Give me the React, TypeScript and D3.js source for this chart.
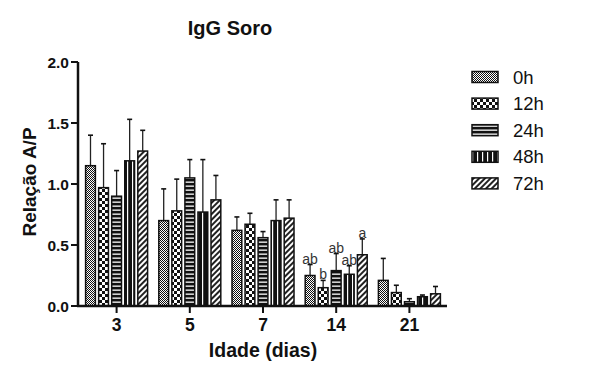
import * as d3 from "d3";

const ages = ["3", "5", "7", "14", "21"];
const series = ["0h", "12h", "24h", "48h", "72h"];
// mean per series, one value per age
const means = [
  [1.15, 0.7, 0.62, 0.25, 0.21],
  [0.97, 0.78, 0.67, 0.15, 0.11],
  [0.9, 1.05, 0.56, 0.29, 0.035],
  [1.19, 0.77, 0.7, 0.26, 0.076],
  [1.27, 0.87, 0.72, 0.42, 0.1],
];
// top of error bar (mean + sd)
const errTops = [
  [1.4, 0.96, 0.73, 0.34, 0.39],
  [1.33, 1.04, 0.76, 0.21, 0.17],
  [1.11, 1.2, 0.61, 0.43, 0.06],
  [1.53, 1.2, 0.87, 0.33, 0.09],
  [1.44, 1.07, 0.87, 0.55, 0.16],
];
// significance letters at 14 days
const letters14 = ["ab", "b", "ab", "ab", "a"];
const yTicks = [0, 0.5, 1.0, 1.5, 2.0];

const font = "'Liberation Sans', Arial, sans-serif";

export default function App() {
  const x = d3.scaleBand().domain(ages).range([80, 446]).padding(0);
  const y = d3.scaleLinear().domain([0, 2]).range([306, 62]);
  const inner = d3
    .scaleBand()
    .domain(series)
    .range([-31, 31])
    .paddingInner(0.25);
  const bw = inner.bandwidth();

  return (
    <svg
      width={600}
      height={370}
      style={{ position: "absolute", left: 0, top: 0, background: "#fff" }}
      fontFamily={font}
    >
      <defs>
        <pattern id="p0" width={2} height={2} patternUnits="userSpaceOnUse">
          <rect width={2} height={2} fill="#fff" />
          <rect width={1} height={1} fill="#111" />
          <rect x={1} y={1} width={1} height={1} fill="#111" />
        </pattern>
        <pattern id="p1" width={6} height={6} patternUnits="userSpaceOnUse">
          <rect width={6} height={6} fill="#111" />
          <rect width={3} height={3} fill="#fff" />
          <rect x={3} y={3} width={3} height={3} fill="#fff" />
        </pattern>
        <pattern id="p2" width={4} height={4} patternUnits="userSpaceOnUse">
          <rect width={4} height={4} fill="#111" />
          <rect y={1.5} width={4} height={1.3} fill="#fff" />
        </pattern>
        <pattern id="p3" width={5} height={5} patternUnits="userSpaceOnUse">
          <rect width={5} height={5} fill="#111" />
          <rect x={2} width={1.2} height={5} fill="#fff" />
        </pattern>
        <pattern
          id="p4"
          width={4}
          height={4}
          patternUnits="userSpaceOnUse"
          patternTransform="rotate(45)"
        >
          <rect width={4} height={4} fill="#fff" />
          <rect width={2} height={4} fill="#222" />
        </pattern>
      </defs>

      <text
        x={230}
        y={35}
        textAnchor="middle"
        fontSize={20}
        fontWeight="bold"
        fill="#111"
      >
        IgG Soro
      </text>

      {/* bars */}
      {series.map((s, si) =>
        ages.map((a, ai) => {
          const cx = (x(a) as number) + x.bandwidth() / 2;
          const bx = cx + (inner(s) as number);
          const v = means[si][ai];
          const e = errTops[si][ai];
          const mid = bx + bw / 2;
          return (
            <g key={s + a}>
              <line x1={mid} x2={mid} y1={y(v)} y2={y(e)} stroke="#222" strokeWidth={1.3} />
              <line x1={mid - 2.5} x2={mid + 2.5} y1={y(e)} y2={y(e)} stroke="#111" strokeWidth={1.6} />
              <rect
                x={bx}
                y={y(v)}
                width={bw}
                height={y(0) - y(v)}
                fill={`url(#p${si})`}
                stroke="#111"
                strokeWidth={1.5}
              />
              {a === "14" && (
                <text
                  x={mid}
                  y={y(e) - 1}
                  textAnchor="middle"
                  fontSize={14}
                  fill="#333"
                >
                  {letters14[si]}
                </text>
              )}
            </g>
          );
        })
      )}

      {/* y axis */}
      <line x1={78} x2={78} y1={y(2)} y2={y(0)} stroke="#111" strokeWidth={2.5} />
      {yTicks.map((t) => (
        <g key={t}>
          <line x1={71} x2={78} y1={y(t)} y2={y(t)} stroke="#111" strokeWidth={2} />
          <text
            x={69}
            y={y(t) + 5.5}
            textAnchor="end"
            fontSize={15.5}
            fontWeight="bold"
            fill="#111"
          >
            {d3.format(".1f")(t)}
          </text>
        </g>
      ))}
      <text
        transform={`translate(36,182) rotate(-90)`}
        textAnchor="middle"
        fontSize={19}
        fontWeight="bold"
        fill="#111"
      >
        Relação A/P
      </text>

      {/* x axis */}
      <line x1={77} x2={447} y1={y(0)} y2={y(0)} stroke="#111" strokeWidth={2.5} />
      {ages.map((a) => {
        const cx = (x(a) as number) + x.bandwidth() / 2;
        return (
          <g key={a}>
            <line x1={cx} x2={cx} y1={y(0)} y2={y(0) + 7} stroke="#111" strokeWidth={2} />
            <text
              x={cx}
              y={331}
              textAnchor="middle"
              fontSize={17.5}
              fontWeight="bold"
              fill="#111"
            >
              {a}
            </text>
          </g>
        );
      })}
      <text
        x={263}
        y={357}
        textAnchor="middle"
        fontSize={19.5}
        fontWeight="bold"
        fill="#111"
      >
        Idade (dias)
      </text>

      {/* legend */}
      {series.map((s, si) => {
        const ly = 77 + si * 26.6;
        return (
          <g key={s}>
            <rect
              x={472}
              y={ly - 5.5}
              width={26}
              height={11}
              fill={`url(#p${si})`}
              stroke="#111"
              strokeWidth={1.5}
            />
            <text x={513} y={ly + 6.5} fontSize={18.5} fill="#111">
              {s}
            </text>
          </g>
        );
      })}
    </svg>
  );
}
